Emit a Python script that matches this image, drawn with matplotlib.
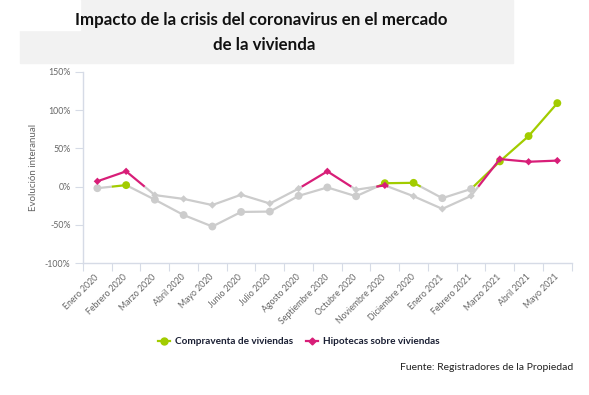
import matplotlib
matplotlib.use('Agg')
import matplotlib.pyplot as plt
from matplotlib.collections import LineCollection
from matplotlib.lines import Line2D
from matplotlib.patches import Rectangle
import numpy as np

# datos (evolución interanual, %)
meses = ['Enero 2020', 'Febrero 2020', 'Marzo 2020', 'Abril 2020', 'Mayo 2020',
         'Junio 2020', 'Julio 2020', 'Agosto 2020', 'Septiembre 2020',
         'Octubre 2020', 'Noviembre 2020', 'Diciembre 2020', 'Enero 2021',
         'Febrero 2021', 'Marzo 2021', 'Abril 2021', 'Mayo 2021']
compraventa = [-2, 2, -17, -37, -52, -33, -32.5, -12, -1, -12.5, 4.5, 5,
               -15, -3, 33, 66, 109]
hipotecas = [7, 20, -11, -16, -24, -10.5, -22, -2.5, 20, -4, 1.7, -12.5,
             -29, -12, 36, 32.5, 34]
yticks = [-100, -50, 0, 50, 100, 150]

VERDE = '#a2cc00'
MAGENTA = '#d81e78'
GRIS = '#cccccc'
TXT = '#666666'

plt.rcParams['font.family'] = ['Lato', 'DejaVu Sans']


def zonas(x, y):
    """separa la serie en tramos >= 0 (color) y < 0 (gris)"""
    pos, neg = [], []
    for i in range(len(y) - 1):
        x0, y0, x1, y1 = x[i], y[i], x[i + 1], y[i + 1]
        if (y0 >= 0) == (y1 >= 0):
            (pos if y0 >= 0 else neg).append([(x0, y0), (x1, y1)])
        else:
            xc = x0 + (0 - y0) / (y1 - y0) * (x1 - x0)
            (pos if y0 >= 0 else neg).append([(x0, y0), (xc, 0)])
            (pos if y1 >= 0 else neg).append([(xc, 0), (x1, y1)])
    return pos, neg


fig = plt.figure(figsize=(5.89, 3.95), dpi=100)

# banda del título
fig.patches.append(Rectangle((20 / 589, 1 - 63 / 395), 493 / 589, 63 / 395,
                             transform=fig.transFigure, color='#f2f2f2', zorder=0))
fig.patches.append(Rectangle((0, 1 - 30 / 395), 80 / 589, 30 / 395,
                             transform=fig.transFigure, color='white', zorder=0))
fig.text(261 / 589, 1 - 20 / 395, 'Impacto de la crisis del coronavirus en el mercado',
         ha='center', va='center', fontsize=12.2, fontweight='bold', color='#111111')
fig.text(264 / 589, 1 - 45 / 395, 'de la vivienda',
         ha='center', va='center', fontsize=12.2, fontweight='bold', color='#111111')

ax = fig.add_axes([83 / 589, 1 - 263.3 / 395, 488.7 / 589, 191.6 / 395])
x = np.arange(len(meses))

for serie, color, marker, ms, z in [(compraventa, VERDE, 'o', 32, 3),
                                     (hipotecas, MAGENTA, 'D', 14, 4)]:
    pos, neg = zonas(x, serie)
    ax.add_collection(LineCollection(neg, colors=GRIS, linewidths=1.6, zorder=z))
    ax.add_collection(LineCollection(pos, colors=color, linewidths=1.6, zorder=z))
    cols = [color if v >= 0 else GRIS for v in serie]
    ax.scatter(x, serie, s=ms, c=cols, marker=marker, zorder=z + 0.5, linewidths=0)

ax.set_xlim(-0.5, len(meses) - 0.5)
ax.set_ylim(-100, 150)
ax.set_yticks(yticks)
ax.set_yticklabels([f'{v}%' for v in yticks], fontsize=6.3, color=TXT)
ax.set_xticks(np.arange(-0.5, len(meses), 1))
ax.set_xticklabels([])
ax.set_xticks(x, minor=True)
ax.set_xticklabels(meses, minor=True, rotation=45, ha='right', va='center',
                   rotation_mode='anchor', fontsize=6.3, color=TXT)
ax.tick_params(axis='x', which='major', length=6, color='#d6dbe6')
ax.tick_params(axis='x', which='minor', length=0, pad=9)
ax.tick_params(axis='y', length=6, color='#d6dbe6', pad=3)

for s in ['top', 'right']:
    ax.spines[s].set_visible(False)
for s in ['left', 'bottom']:
    ax.spines[s].set_color('#d6dbe6')
    ax.spines[s].set_linewidth(1)
ax.set_ylabel('Evolución interanual', fontsize=7, color=TXT)
ax.yaxis.set_label_coords(-0.092, 0.5)

# leyenda
handles = [Line2D([], [], color=VERDE, marker='o', lw=1.6, ms=5),
           Line2D([], [], color=MAGENTA, marker='D', lw=1.6, ms=3.5)]
fig.legend(handles, ['Compraventa de viviendas', 'Hipotecas sobre viviendas'],
           loc='center', bbox_to_anchor=(299 / 589, 1 - 342 / 395), ncol=2,
           frameon=False, handlelength=1.2, handletextpad=0.5, columnspacing=1.3,
           prop={'weight': 'bold', 'size': 7.2}, labelcolor='#1a1f33')

fig.text(573 / 589, 1 - 367 / 395, 'Fuente: Registradores de la Propiedad',
         ha='right', va='center', fontsize=7.5, color='#222222')

fig.savefig('out.png', dpi=100)
